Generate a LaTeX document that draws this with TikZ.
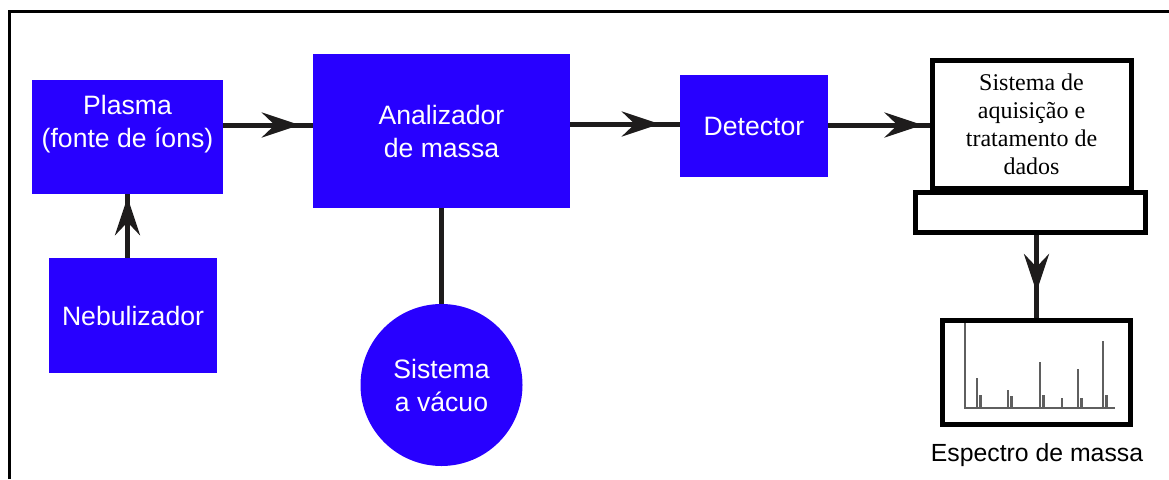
\documentclass[tikz,border=0pt]{standalone}
\usepackage{fontspec}
\setmainfont{Liberation Serif}
\setsansfont{Liberation Sans}
\usetikzlibrary{arrows.meta,decorations.markings}
\definecolor{boxblue}{RGB}{40,0,255}
\definecolor{wire}{RGB}{30,28,28}
\definecolor{peak}{RGB}{95,95,95}
\tikzset{
  bluebox/.style={rectangle, fill=boxblue, draw=none, inner sep=0pt,
    text=white, font=\sffamily\fontsize{26.6}{33}\selectfont, align=center},
  bluetext/.style={text=white, font=\sffamily\fontsize{26.6}{33}\selectfont, align=center, inner sep=0pt},
  wireline/.style={draw=wire, line width=5pt},
  flow/.style={wireline, postaction={decorate}, decoration={markings,
    mark=at position #1 with {\arrow{Stealth[length=38pt,width=25pt,inset=13pt]}}}},
  outline/.style={draw=black, line width=5pt, fill=white},
}
\begin{document}
\begin{tikzpicture}[x=1pt,y=-1pt]
\useasboundingbox (0,0) rectangle (1169,479);
% partial frame
\draw[line width=3pt] (9,479) -- (9,11) -- (1169,11);

% blue blocks
\node[bluebox, minimum width=191pt, minimum height=114pt] (plasma) at (127.5,137) {};
\node[bluetext] (plasmatxt) at (127.5,124) {Plasma\\(fonte de íons)};
\node[bluebox, minimum width=168pt, minimum height=115pt] (neb) at (133,315.5) {Nebulizador};
\node[bluebox, minimum width=257pt, minimum height=154pt] (ana) at (441.5,131) {Analizador\\de massa};
\node[bluebox, minimum width=148pt, minimum height=102pt] (det) at (754,126) {Detector};
\node[bluebox, circle, minimum size=162pt] (vac) at (441.5,385) {Sistema\\a vácuo};

% data system (monitor and base)
\node[outline, rectangle, minimum width=199pt, minimum height=128pt, inner sep=0pt,
  font=\fontsize{24}{28}\selectfont, align=center] (sys) at (1031.5,124) {Sistema de\\aquisição e\\tratamento de\\dados};
\node[outline, rectangle, minimum width=230pt, minimum height=40pt, inner sep=0pt] (base) at (1030.5,212.5) {};

% spectrum display
\node[outline, rectangle, minimum width=188pt, minimum height=104pt, inner sep=0pt] (spec) at (1036.5,372.5) {};
\node[font=\sffamily\fontsize{24.8}{28}\selectfont, inner sep=0pt] (spectxt) at (1037,455) {Espectro de massa};
\begin{scope}[draw=peak, line width=2.5pt]
  \draw (965,323) -- (965,408) -- (1115,408);
  \draw (977,408) -- (977,378);  \draw (980.5,408) -- (980.5,395);
  \draw (1008,408) -- (1008,390); \draw (1011.5,408) -- (1011.5,396);
  \draw (1040,408) -- (1040,362); \draw (1043.5,408) -- (1043.5,395);
  \draw (1062,408) -- (1062,398);
  \draw (1078,408) -- (1078,369); \draw (1081.5,408) -- (1081.5,398);
  \draw (1103,408) -- (1103,341); \draw (1106.5,408) -- (1106.5,395);
\end{scope}

% connectors
\draw[flow=-13pt] (plasma.east |- 0,125) -- (ana.west |- 0,125);
\draw[flow=-20pt] (ana.east |- 0,124) -- (det.west |- 0,124);
\draw[flow=-7pt] (det.east |- 0,125) -- (sys.west |- 0,125);
\draw[flow=-3pt] (neb.north -| plasma.south) -- (plasma.south);
\draw[wireline] (ana.south) -- (vac.north);
\draw[flow=-26pt] (base.south -| spec.north) -- (spec.north);
\end{tikzpicture}
\end{document}
